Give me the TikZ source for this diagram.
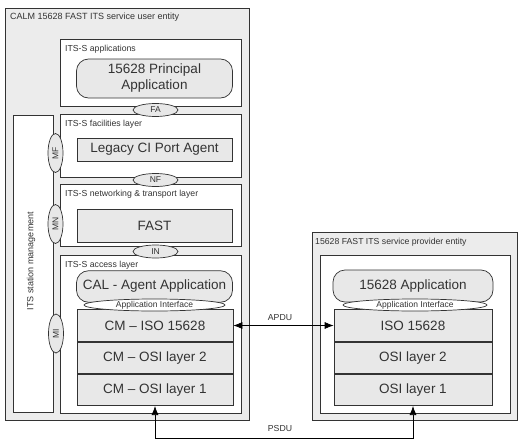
\documentclass[tikz,border=0pt]{standalone}
\usepackage{xcolor}
\usepackage{tikz}
\usepackage{fontspec}
\setmainfont{Liberation Sans}
\usetikzlibrary{shapes, arrows.meta, positioning}
\definecolor{ink}{HTML}{333333}
\tikzstyle{outer} = [rectangle, draw=ink, fill=gray!15, line width=0.7pt, anchor=north west]
\tikzstyle{layer} = [rectangle, draw=ink, fill=white, line width=0.7pt, anchor=north west]
\tikzstyle{blk} = [rectangle, draw=ink, fill=gray!18, line width=0.7pt, text=ink, minimum width=156pt, minimum height=31.5pt, inner sep=0pt, font=\fontsize{13.5}{16}\selectfont]
\tikzstyle{app} = [blk, rounded corners=12pt, align=center]
\tikzstyle{sap} = [ellipse, draw=ink, fill=gray!18, line width=0.7pt, text=ink, inner sep=0pt, minimum width=45pt, minimum height=13pt, font=\fontsize{8.5}{10}\selectfont]
\tikzstyle{vsap} = [sap, rotate=90, minimum width=39pt, minimum height=15pt]
\tikzstyle{ifc} = [sap, fill=white, minimum height=12pt]
\tikzstyle{lbl} = [anchor=west, inner sep=0pt, text=ink, font=\fontsize{8.7}{10}\selectfont]
\tikzstyle{line} = [draw=black, line width=0.7pt, {Latex[length=9pt,width=7pt]}-{Latex[length=9pt,width=7pt]}]
\begin{document}
\begin{tikzpicture}[x=1pt, y=-1pt]
  \useasboundingbox (0,0) rectangle (522,447);
  % user entity
  \node (user) [outer, minimum width=244pt, minimum height=412pt] at (5,8) {};
  \node (usert) [lbl, font=\fontsize{9}{10}\selectfont] at (10,17.5) {CALM 15628 FAST ITS service user entity};
  \node (mgmt) [layer, minimum width=40pt, minimum height=297pt] at (13,115) {};
  \node (mgmtt) [lbl, rotate=90, anchor=center, font=\fontsize{9}{10}\selectfont] at (31,261) {ITS station management};
  \node (apps) [layer, minimum width=181pt, minimum height=67pt] at (60,39) {};
  \node (fac) [layer, minimum width=181pt, minimum height=63pt] at (60,114) {};
  \node (net) [layer, minimum width=181pt, minimum height=62pt] at (60,184) {};
  \node (acc) [layer, minimum width=181pt, minimum height=158pt] at (60,255) {};
  \node (appst) [lbl] at (65,49.5) {ITS-S applications};
  \node (fact) [lbl] at (65,124.5) {ITS-S facilities layer};
  \node (nett) [lbl] at (65,194.5) {ITS-S networking \& transport layer};
  \node (acct) [lbl] at (65,265.5) {ITS-S access layer};
  \node (pa) [app, minimum height=39pt] at (154.5,78.5) {15628 Principal\\Application};
  \node (lg) [blk, minimum height=23pt, minimum width=155pt] at (154.5,149.5) {Legacy CI Port Agent};
  \node (fast) [blk, minimum height=33pt, minimum width=155pt] at (154.5,225.5) {FAST};
  \node (cal) [app] at (154.5,286.5) {CAL - Agent Application};
  \node (cm1) [blk] at (155,325.5) {CM -- ISO 15628};
  \node (cm2) [blk, below=0pt of cm1] {CM -- OSI layer 2};
  \node (cm3) [blk, below=0pt of cm2] {CM -- OSI layer 1};
  \node (api1) [ifc, minimum width=141pt] at (154.5,305) {Application Interface};
  \node (fa) [sap] at (155.5,110) {FA};
  \node (nf) [sap] at (155.5,180) {NF};
  \node (in) [sap] at (155.5,251.5) {IN};
  \node (mf) [vsap] at (55.5,153) {MF};
  \node (mn) [vsap] at (55.5,224) {MN};
  \node (mi) [vsap] at (56,333.5) {MI};
  % provider entity
  \node (prov) [outer, minimum width=205pt, minimum height=188pt] at (312,232) {};
  \node (provt) [lbl] at (315,242) {15628 FAST ITS service provider entity};
  \node (pin) [layer, minimum width=190pt, minimum height=158pt] at (320,255) {};
  \node (app2) [app, minimum width=160pt, minimum height=32pt] at (413,286) {15628 Application};
  \node (iso) [blk, minimum width=158pt] at (413,325.5) {ISO 15628};
  \node (osi2) [blk, minimum width=158pt, below=0pt of iso] {OSI layer 2};
  \node (osi1) [blk, minimum width=158pt, below=0pt of osi2] {OSI layer 1};
  \node (api2) [ifc, minimum width=144pt] at (415,305) {Application Interface};
  % PDUs
  \draw [line] (cm1) -- (iso);
  \draw [line] (cm3.south) -- ++(0,32) -| (osi1.south);
  \node (apdu) [lbl, anchor=center] at (280,318) {APDU};
  \node (psdu) [lbl, anchor=center] at (280,428) {PSDU};
\end{tikzpicture}
\end{document}
